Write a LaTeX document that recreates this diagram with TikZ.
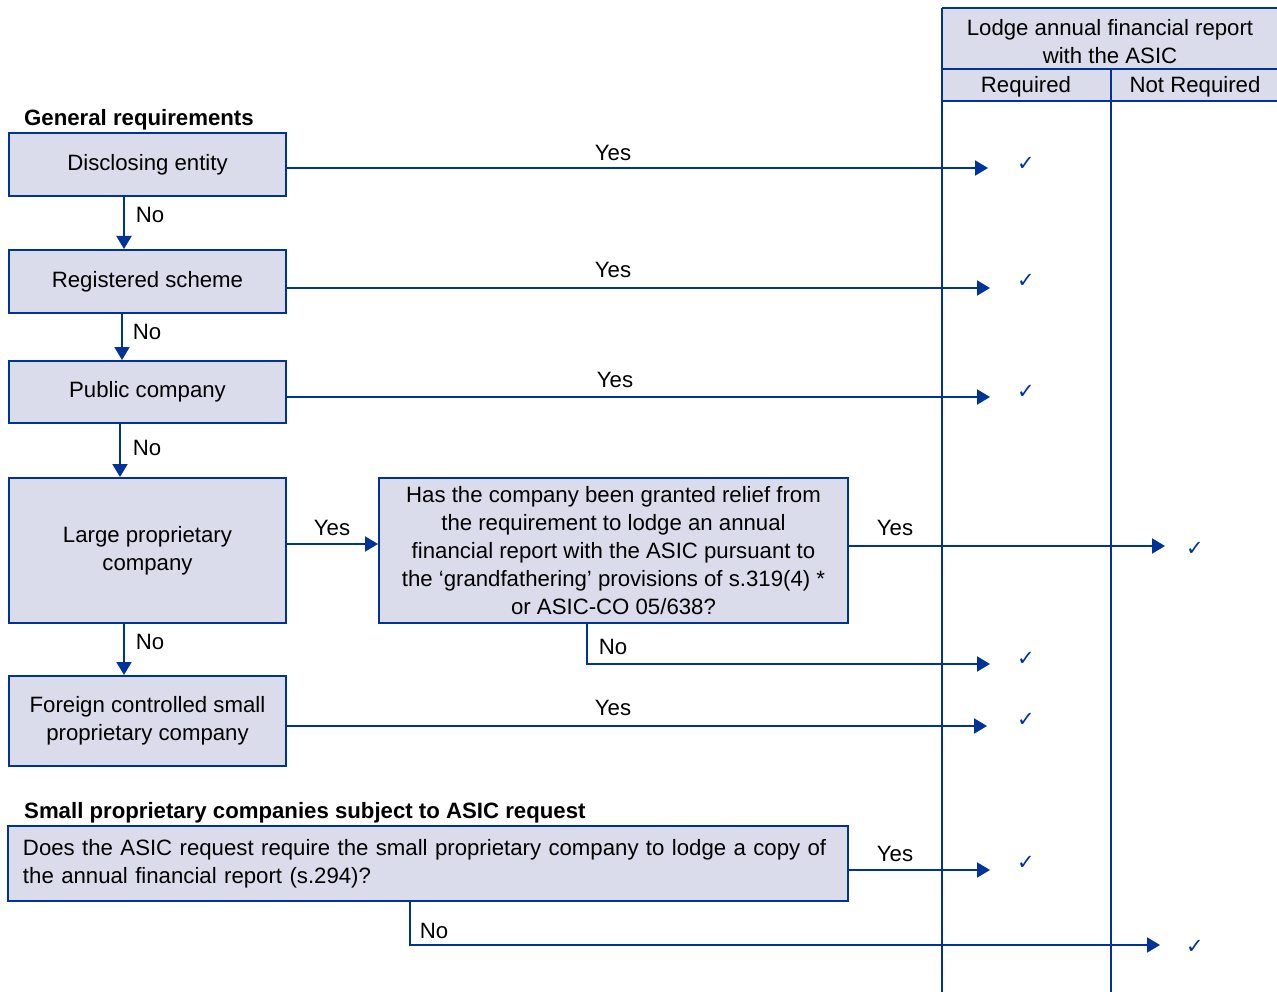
\documentclass[tikz,border=0pt]{standalone}
\usepackage{fontspec}
\setmainfont{Liberation Sans}
\newfontfamily\symfont{DejaVu Sans}
\usetikzlibrary{arrows.meta}
\definecolor{edge}{RGB}{0,51,153}
\definecolor{boxfill}{RGB}{218,219,235}
\begin{document}
\begin{tikzpicture}[x=1pt,y=-1pt,
 box/.style={draw=edge,fill=boxfill,line width=2pt,minimum width=277pt,inner sep=0pt,align=center,font=\fontsize{22.2}{28}\selectfont},
 arr/.style={draw=edge,line width=2pt,-{Triangle[length=13pt,width=15pt]}},
 lab/.style={font=\fontsize{22.2}{28}\selectfont,inner sep=0pt},
 chk/.style={text=edge,font=\symfont\fontsize{21}{21}\selectfont,inner sep=0pt},
 head/.style={font=\bfseries\fontsize{22.2}{28}\selectfont,inner sep=0pt,anchor=west},
 col/.style={draw=edge,line width=2pt}]
\useasboundingbox (0,0) rectangle (1277,992);

% header table
\fill[boxfill] (942,8) rectangle (1277,101);
\draw[col] (942,8) -- (1277,8);
\draw[col] (942,69) -- (1277,69);
\draw[col] (942,101) -- (1277,101);
\draw[col] (942,8) -- (942,992);
\draw[col] (1111,69) -- (1111,992);
\node[lab,align=center] (hdr) at (1110,42) {Lodge annual financial report\\with the ASIC};
\node[lab] (req) at (1026,87) {Required};
\node[lab] (nreq) at (1195,87) {Not Required};

% section headings
\node[head] (gen) at (24,120) {General requirements};
\node[head] (small) at (24,813) {Small proprietary companies subject to ASIC request};

% boxes
\node[box,minimum height=63pt] (disc) at (147.5,164.5) {\raisebox{-2pt}{Disclosing entity}};
\node[box,minimum height=63pt] (reg) at (147.5,281.5) {\raisebox{-2pt}{Registered scheme}};
\node[box,minimum height=62pt] (pub) at (147.5,392) {\raisebox{-2pt}{Public company}};
\node[box,minimum height=145pt] (large) at (147.5,550.5) {Large proprietary\\company};
\node[box,minimum height=90pt] (foreign) at (147.5,721) {Foreign controlled small\\proprietary company};
\node[box,minimum width=469pt,minimum height=145pt] (relief) at (613.5,550.5)
 {Has the company been granted relief from\\the requirement to lodge an annual\\financial report with the ASIC pursuant to\\the `grandfathering' provisions of s.319(4) *\\or ASIC-CO 05/638?};
\node[box,minimum width=840pt,minimum height=75pt,text width=810pt,align=left] (asic) at (428,863.5)
 {Does the ASIC request require the small proprietary company to lodge a copy of\\the annual financial report (s.294)?};

% end points
\coordinate (t1) at (988,168);
\coordinate (t2) at (990,288);
\coordinate (t3) at (990,397);
\coordinate (t4) at (1165,546);
\coordinate (t5) at (990,664);
\coordinate (t6) at (987,726);
\coordinate (t7) at (990,870);
\coordinate (t8) at (1160,945);

% Yes arrows
\draw[arr] (disc.east |- t1) -- (t1);
\draw[arr] (reg.east |- t2) -- (t2);
\draw[arr] (pub.east |- t3) -- (t3);
\draw[arr] ([yshift=6.5pt]large.east) -- ([yshift=6.5pt]relief.west);
\draw[arr] (relief.east |- t4) -- (t4);
\draw[arr] (foreign.east |- t6) -- (t6);
\draw[arr] (asic.east |- t7) -- (t7);

% No arrows
\draw[arr] ([xshift=-23.5pt]disc.south) -- ([xshift=-23.5pt]reg.north);
\draw[arr] ([xshift=-25.5pt]reg.south) -- ([xshift=-25.5pt]pub.north);
\draw[arr] ([xshift=-27.5pt]pub.south) -- ([xshift=-27.5pt]large.north);
\draw[arr] ([xshift=-23.5pt]large.south) -- ([xshift=-23.5pt]foreign.north);
\draw[arr] ([xshift=-26.5pt]relief.south) |- (t5);
\draw[arr] ([xshift=-18pt]asic.south) |- (t8);

% labels
\node[lab] (y1) at (613,153) {Yes};
\node[lab] (y2) at (613,270) {Yes};
\node[lab] (y3) at (615,380) {Yes};
\node[lab] (y4) at (332,528) {Yes};
\node[lab] (y5) at (895,528) {Yes};
\node[lab] (y6) at (613,708) {Yes};
\node[lab] (y7) at (895,854) {Yes};
\node[lab] (n1) at (150,215) {No};
\node[lab] (n2) at (147,332) {No};
\node[lab] (n3) at (147,448) {No};
\node[lab] (n4) at (150,642) {No};
\node[lab] (n5) at (613,647) {No};
\node[lab] (n6) at (434,931) {No};

% checks
\node[chk] (c1) at (1026,164) {✓};
\node[chk] (c2) at (1026,281) {✓};
\node[chk] (c3) at (1026,392) {✓};
\node[chk] (c4) at (1195,549) {✓};
\node[chk] (c5) at (1026,659) {✓};
\node[chk] (c6) at (1026,720) {✓};
\node[chk] (c7) at (1026,863) {✓};
\node[chk] (c8) at (1195,947) {✓};
\end{tikzpicture}
\end{document}
